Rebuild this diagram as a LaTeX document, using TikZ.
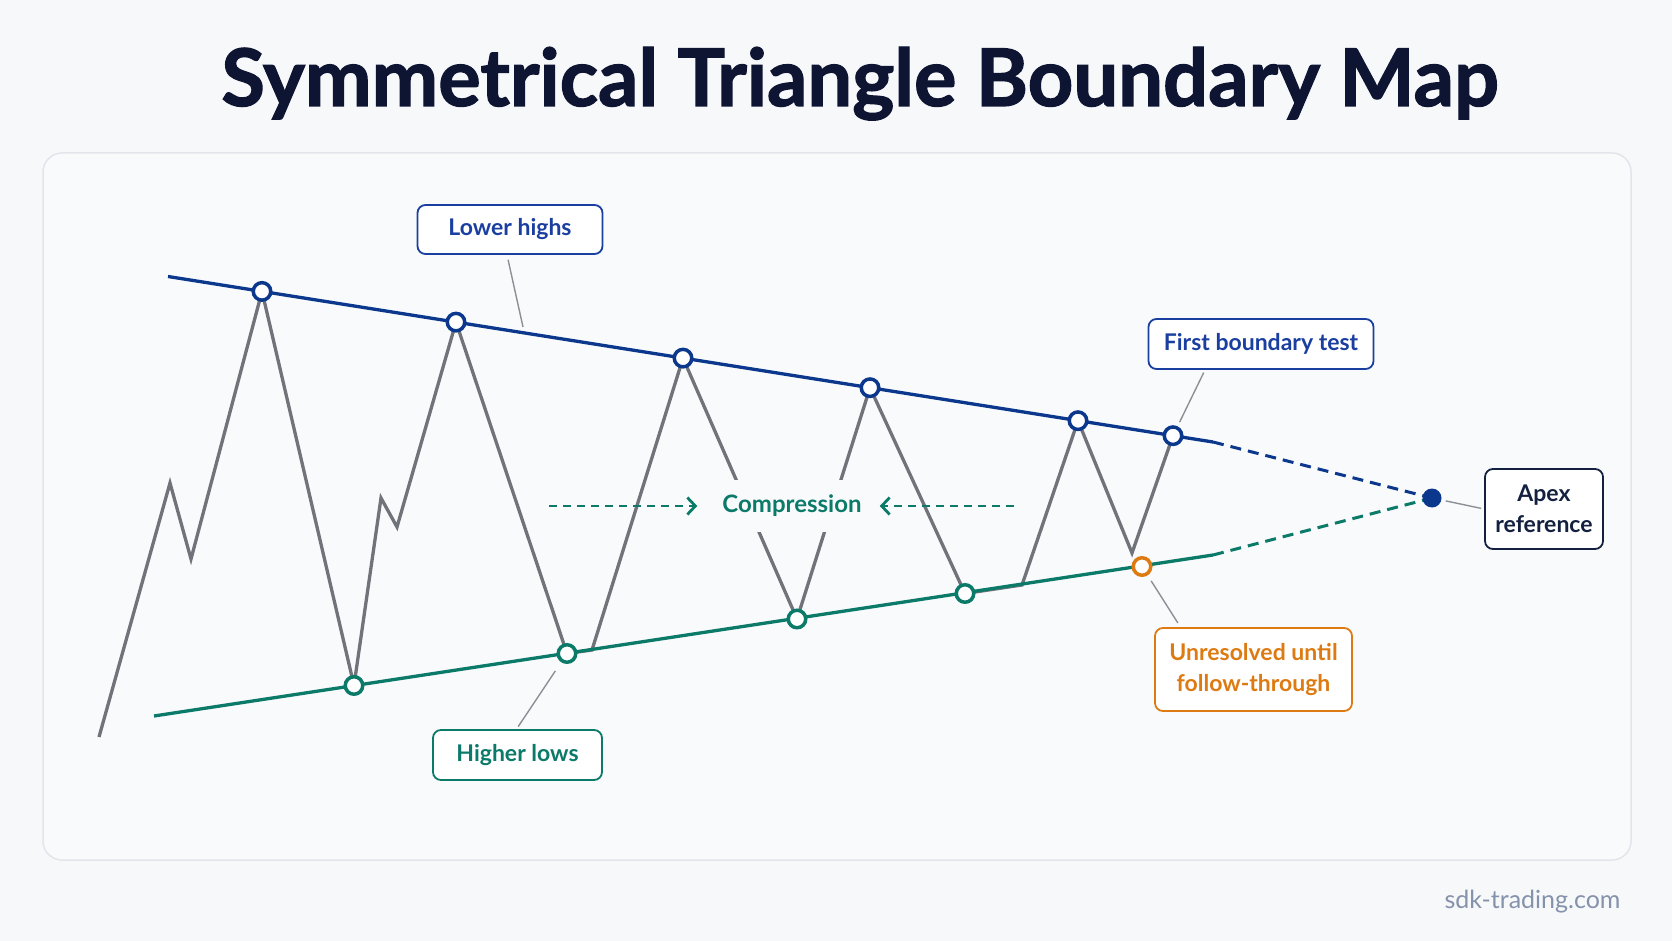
\documentclass[tikz,border=0pt]{standalone}
\usepackage{fontspec}
\setmainfont{Lato}
\newfontfamily\titlefont[BoldFeatures={FakeBold=1.6}]{Lato}
\usetikzlibrary{arrows.meta,calc,positioning}
\definecolor{pageBg}{HTML}{F7F8FA}
\definecolor{panelBg}{HTML}{F9FAFC}
\definecolor{panelEdge}{HTML}{E2E5EB}
\definecolor{inkNavy}{HTML}{0E1533}
\definecolor{upBlue}{HTML}{0B388C}
\definecolor{tagBlue}{HTML}{1A3FA0}
\definecolor{lowTeal}{HTML}{0B7A69}
\definecolor{warnOrange}{HTML}{DD7B12}
\definecolor{priceGray}{HTML}{707379}
\definecolor{leadGray}{HTML}{8C8F95}
\definecolor{apexInk}{HTML}{13203F}
\definecolor{siteGray}{HTML}{8592AC}

\begin{document}
\begin{tikzpicture}[x=1pt,y=-1pt,
    ring/.style={circle,draw=upBlue,line width=3.5pt,fill=white,minimum size=17.5pt,inner sep=0pt},
    bound/.style={line width=3.3pt},
    ext/.style={line width=3pt,dash pattern=on 11pt off 7pt},
    tag/.style={draw,rounded corners=8pt,line width=1.8pt,fill=white,inner sep=0pt,align=center,
      font=\fontsize{23}{31}\selectfont\bfseries},
    leader/.style={draw=leadGray,line width=1.4pt},
    squeeze/.style={lowTeal,line width=2.8pt,dash pattern=on 8pt off 6pt,-{Straight Barb[length=8pt,width=17pt,line width=2.8pt]}}]
  \useasboundingbox[fill=pageBg] (0,0) rectangle (1672,941);
  \draw[panelEdge,fill=panelBg,line width=1.5pt,rounded corners=19pt] (43,153) rectangle (1631,860);
  \node[anchor=base,text=inkNavy,font=\fontsize{79.5}{90}\selectfont\titlefont\bfseries] (title) at (860,106) {Symmetrical Triangle Boundary Map};

  \coordinate (ustart) at (168,276.5);
  \coordinate (uend) at (1213,442);
  \coordinate (lstart) at (154,716);
  \coordinate (lend) at (1213,555);
  \coordinate (h1) at (262,291.4);
  \coordinate (h2) at (456,322.1);
  \coordinate (h3) at (683,358.1);
  \coordinate (h4) at (870,387.7);
  \coordinate (h5) at (1078,420.7);
  \coordinate (h6) at (1173,435.7);
  \coordinate (l1) at (354,685.5);
  \coordinate (l2) at (567,653.5);
  \coordinate (l3) at (797,619);
  \coordinate (l4) at (965,593.5);
  \coordinate (l5) at (1142,566.5);

  \draw[priceGray,line width=3.3pt,line join=miter] (99,737) -- (170,483) -- (191,559) -- (h1) -- (l1)
    -- (381,498) -- (397,527) -- (h2) -- (l2) -- (592,650) -- (h3) -- (l3) -- (h4) -- (l4)
    -- (1022,585) -- (h5) -- (1132,553) -- (h6);

  \node[fill=panelBg,minimum height=52pt,inner xsep=4pt,text=lowTeal,font=\fontsize{24}{28}\selectfont\bfseries] (squeeze) at (792,506) {Compression};
  \coordinate (sq-l) at (549,506);
  \coordinate (sq-r) at (1014,506);
  \draw[squeeze,shorten >=21pt] (sq-l) -- (squeeze);
  \draw[squeeze,shorten >=14pt] (sq-r) -- (squeeze);

  \draw[bound,upBlue] (ustart) -- (uend);
  \draw[ext,upBlue] (uend) -- (1432,498);
  \draw[bound,lowTeal] (lstart) -- (lend);
  \draw[ext,lowTeal] (lend) -- (1432,498);

  \foreach \k in {1,...,6} \node[ring] (hr\k) at (h\k) {};
  \foreach \k in {1,...,4} \node[ring,draw=lowTeal] (lr\k) at (l\k) {};
  \node[ring,draw=warnOrange] (lr5) at (l5) {};
  \node[circle,fill=upBlue,minimum size=19pt,inner sep=0pt] (apex) at (1432,498) {};

  \node[tag,draw=tagBlue,text=tagBlue,minimum width=185pt,minimum height=49pt] (lowhighs) at (510,229.5) {Lower highs};
  \node[tag,draw=tagBlue,text=tagBlue,minimum width=225pt,minimum height=50pt] (firsttest) at (1261,344) {First boundary test};
  \node[tag,draw=apexInk,text=apexInk,minimum width=118pt,minimum height=80pt] (apexlbl) at (1544,509) {Apex\\reference};
  \node[tag,draw=warnOrange,text=warnOrange,minimum width=197pt,minimum height=83pt] (unresolved) at (1253.5,669.5) {Unresolved until\\follow-through};
  \node[tag,draw=lowTeal,text=lowTeal,minimum width=169pt,minimum height=50pt] (higherlows) at (517.5,755) {Higher lows};

  \coordinate (lh-tip) at (523,327);
  \draw[leader,shorten <=5pt] ([xshift=-3pt]lowhighs.south) -- (lh-tip);
  \draw[leader,shorten <=3pt,shorten >=15pt] ([xshift=-56pt]firsttest.south) -- (hr6.center);
  \draw[leader,shorten <=14pt,shorten >=3pt] (apex.center) -- (apexlbl.west);
  \draw[leader,shorten <=5pt,shorten >=17pt] ([xshift=-73pt]unresolved.north) -- (lr5.center);
  \draw[leader,shorten <=3pt,shorten >=21pt] ([xshift=-1pt]higherlows.north) -- (lr2.center);

  \node[anchor=base east,text=siteGray,font=\fontsize{25}{30}\selectfont] (site) at (1624,908) {sdk-trading.com};
\end{tikzpicture}
\end{document}
